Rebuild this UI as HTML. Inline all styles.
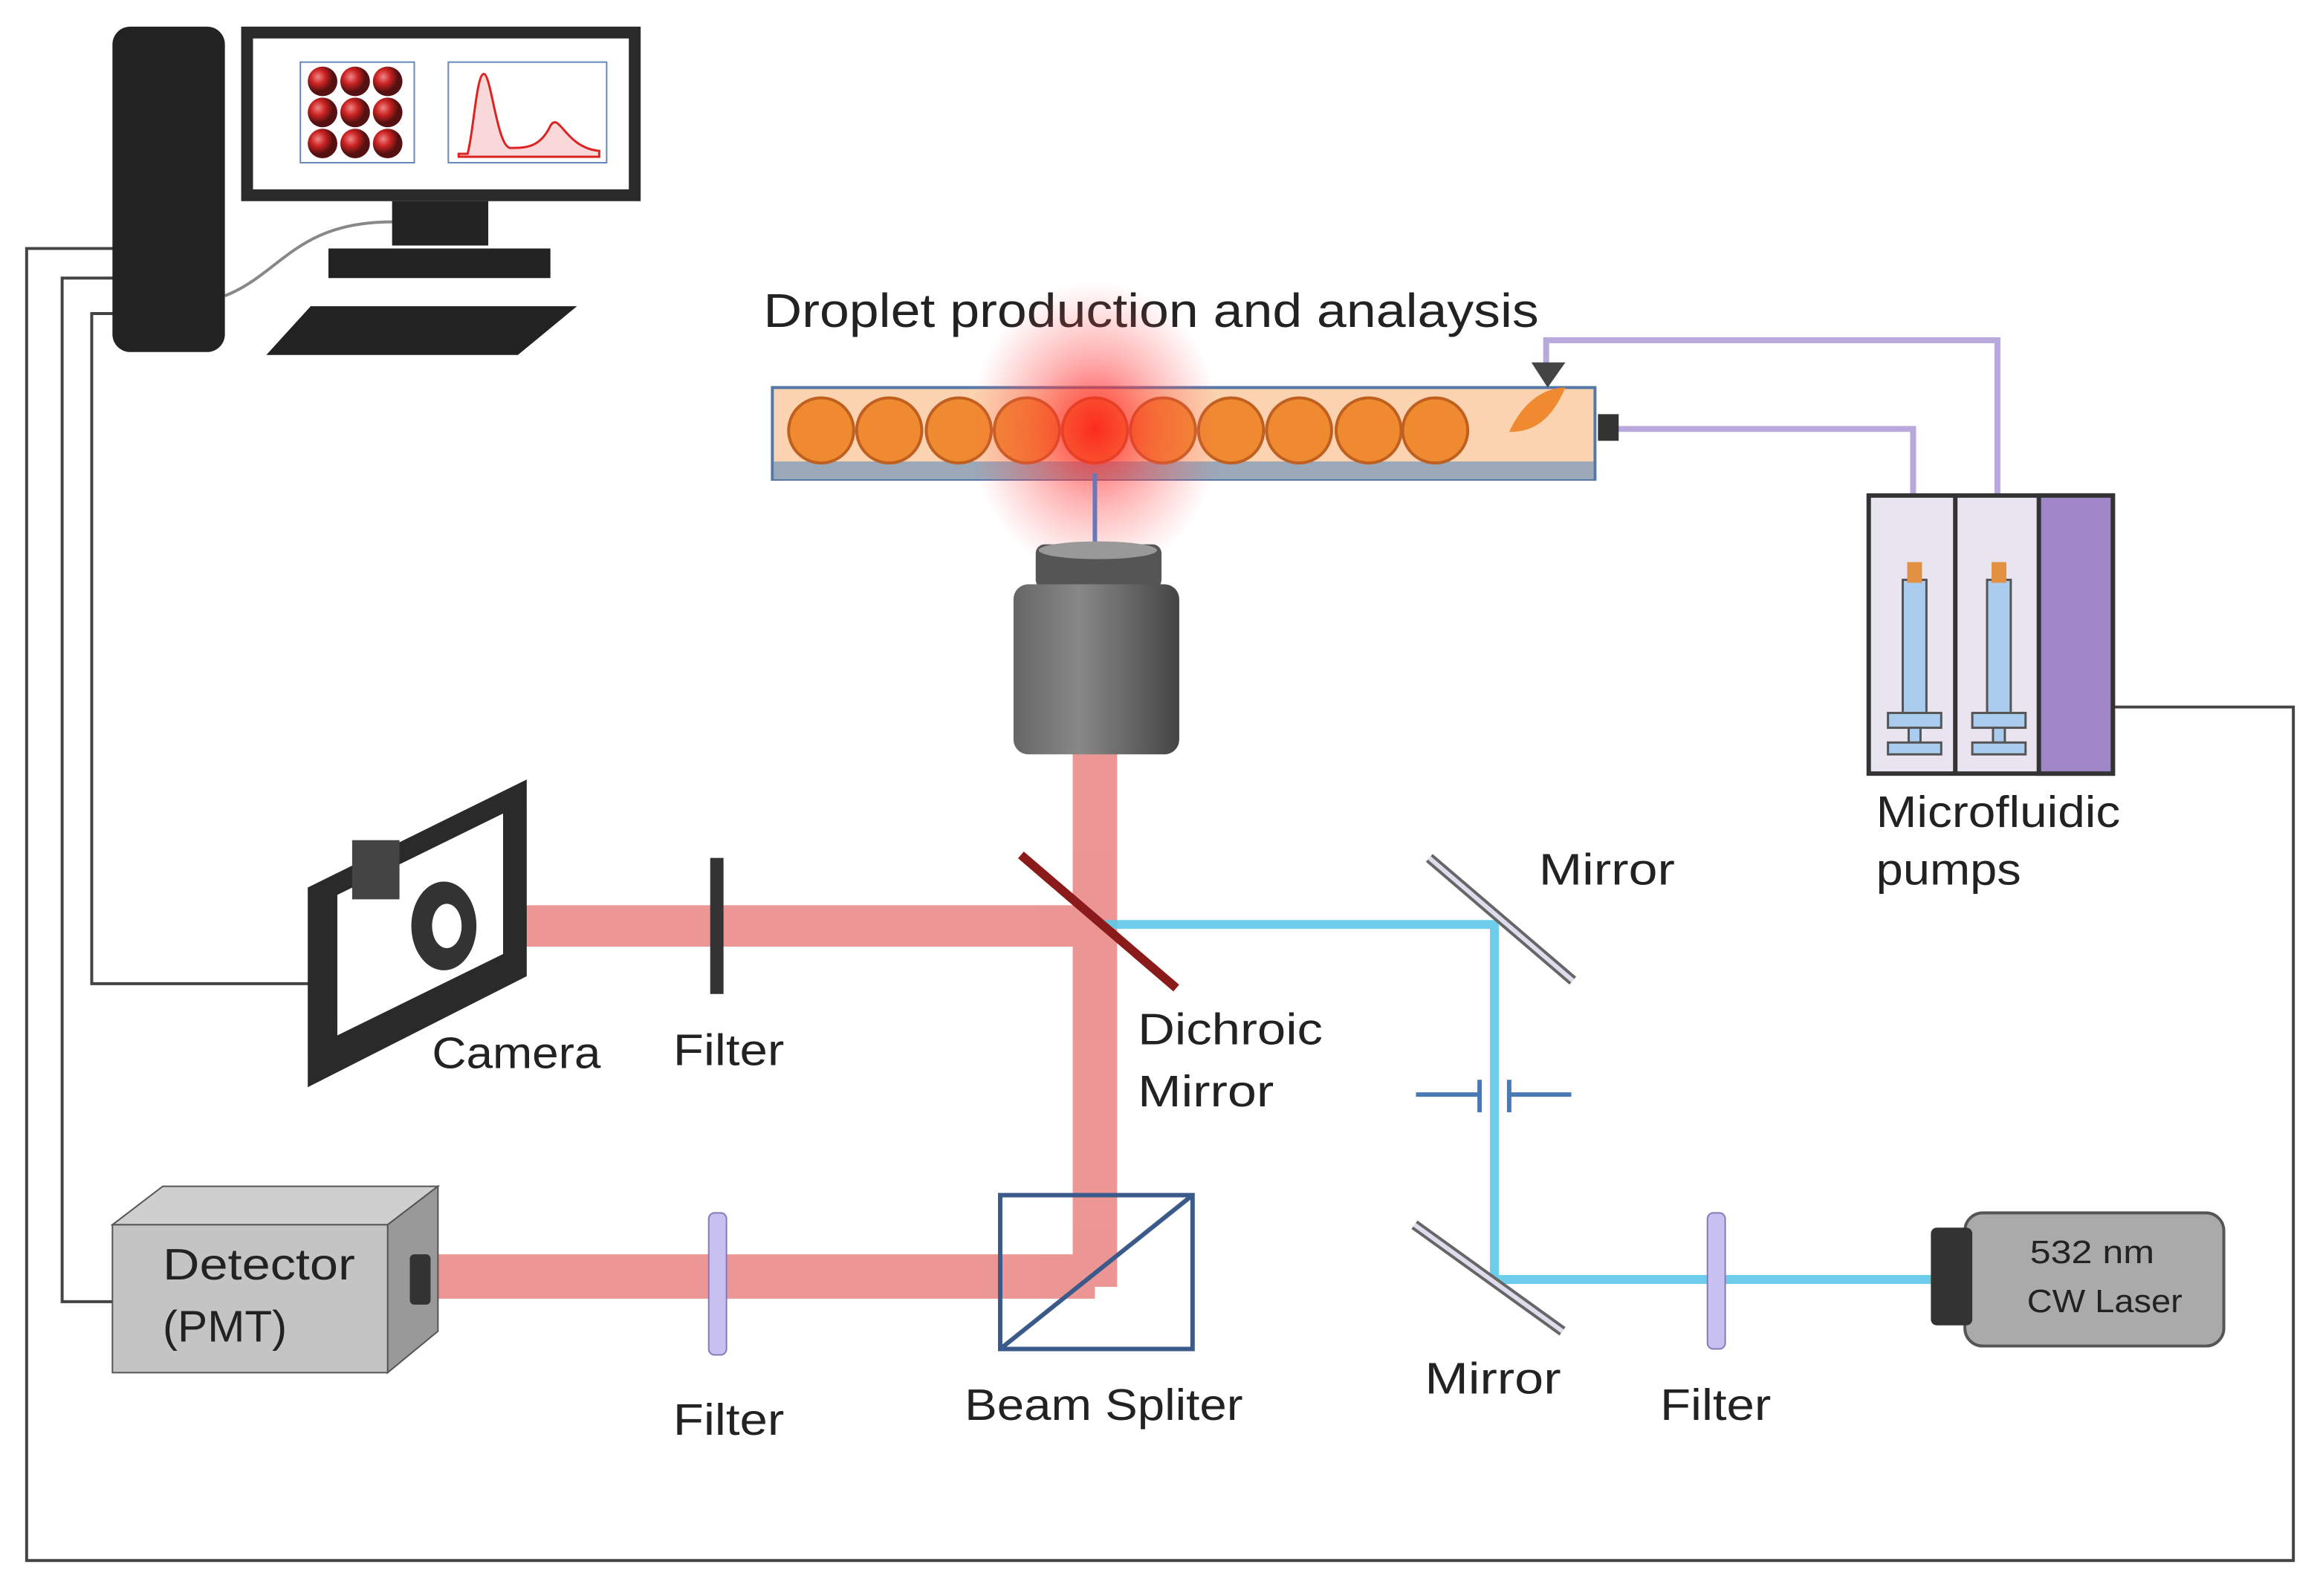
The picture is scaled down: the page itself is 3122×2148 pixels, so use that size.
<!DOCTYPE html>
<html><head><meta charset="utf-8"><style>
html,body{margin:0;padding:0;background:#fff}
svg{display:block}
text{font-family:"Liberation Sans",sans-serif;fill:#222}
</style></head><body>
<svg width="3122" height="2148" viewBox="0 0 1568 1079" preserveAspectRatio="none" xmlns="http://www.w3.org/2000/svg">
<defs>
<radialGradient id="glow"><stop offset="0" stop-color="#ff1a1a" stop-opacity="0.85"/><stop offset="0.5" stop-color="#ff4040" stop-opacity="0.4"/><stop offset="1" stop-color="#ff6060" stop-opacity="0"/></radialGradient>
<linearGradient id="obj" x1="0" x2="1"><stop offset="0" stop-color="#666"/><stop offset="0.4" stop-color="#888"/><stop offset="1" stop-color="#444"/></linearGradient>
<radialGradient id="ball" cx="0.35" cy="0.35"><stop offset="0" stop-color="#e88"/><stop offset="0.5" stop-color="#c22"/><stop offset="1" stop-color="#511"/></radialGradient>
</defs>
<g fill="none" stroke="#444" stroke-width="2">
<polyline points="78,168 18,168 18,1055 1550,1055 1550,478 1428,478"/>
<polyline points="78,188 42,188 42,880 78,880"/>
<polyline points="78,212 62,212 62,665 212,665"/>
<path d="M265,150 C200,150 190,185 152,200" stroke="#888"/>
</g>
<rect x="76" y="18" width="76" height="220" rx="12" fill="#222"/>
<rect x="167" y="22" width="262" height="110" fill="#fff" stroke="#2a2a2a" stroke-width="8"/>
<rect x="203" y="42" width="77" height="68" fill="#fff" stroke="#6688bb"/>
<g fill="url(#ball)">
<circle cx="218" cy="55" r="10"/><circle cx="240" cy="55" r="10"/><circle cx="262" cy="55" r="10"/>
<circle cx="218" cy="76" r="10"/><circle cx="240" cy="76" r="10"/><circle cx="262" cy="76" r="10"/>
<circle cx="218" cy="97" r="10"/><circle cx="240" cy="97" r="10"/><circle cx="262" cy="97" r="10"/>
</g>
<rect x="303" y="42" width="107" height="68" fill="#fff" stroke="#6688bb"/>
<path d="M310,104 L316,104 C320,90 322,50 327,50 C332,50 336,100 345,100 C355,100 365,100 372,85 C378,75 382,100 405,102 L405,106 L310,106Z" fill="#f8d8d8" stroke="#d22" stroke-width="1.5"/>
<rect x="265" y="136" width="65" height="30" fill="#222"/>
<rect x="222" y="168" width="150" height="20" fill="#222"/>
<polygon points="210,207 390,207 350,240 180,240" fill="#222"/>
<text x="516" y="221" font-size="32" textLength="524" lengthAdjust="spacingAndGlyphs">Droplet production and analaysis</text>
<g fill="none" stroke="#b8a8dc" stroke-width="4">
<polyline points="1293,360 1293,290 1090,290"/>
<polyline points="1350,360 1350,230 1045,230 1045,250"/>
</g>
<rect x="522" y="262" width="556" height="62" fill="#fbd3b0" stroke="#5577aa" stroke-width="2"/>
<rect x="523" y="312" width="554" height="12" fill="#9aa8b8"/>
<g fill="#f08a30" stroke="#c06020" stroke-width="2">
<circle cx="555" cy="291" r="22"/><circle cx="601" cy="291" r="22"/><circle cx="648" cy="291" r="22"/><circle cx="694" cy="291" r="22"/><circle cx="740" cy="291" r="22"/><circle cx="786" cy="291" r="22"/><circle cx="832" cy="291" r="22"/><circle cx="878" cy="291" r="22"/><circle cx="925" cy="291" r="22"/><circle cx="970" cy="291" r="22"/>
</g>
<path d="M1020,292 C1030,270 1045,262 1058,262 C1050,280 1040,292 1020,292Z" fill="#f08a30"/>
<polygon points="1035,245 1058,245 1046,262" fill="#444"/>
<rect x="1080" y="280" width="14" height="18" fill="#333"/>
<ellipse cx="740" cy="290" rx="85" ry="100" fill="url(#glow)"/>
<g fill="#e05050" opacity="0.6">
<rect x="725" y="505" width="30" height="365"/>
<rect x="300" y="612" width="445" height="28"/>
<rect x="295" y="848" width="445" height="30"/>
</g>
<line x1="740" y1="320" x2="740" y2="370" stroke="#6677bb" stroke-width="3"/>
<rect x="700" y="368" width="85" height="30" rx="6" fill="#555"/>
<ellipse cx="742" cy="372" rx="40" ry="6" fill="#999"/>
<rect x="685" y="395" width="112" height="115" rx="10" fill="url(#obj)"/>
<g stroke="#5ec8e8" stroke-width="6" fill="none" opacity="0.9">
<polyline points="745,625 1010,625 1010,865 1305,865"/>
</g>
<line x1="690" y1="578" x2="795" y2="668" stroke="#8b1a1a" stroke-width="6"/>
<g stroke="#666" stroke-width="7" fill="none"><line x1="966" y1="580" x2="1063" y2="663"/><line x1="956" y1="828" x2="1056" y2="900"/></g>
<g stroke="#dde" stroke-width="3" fill="none"><line x1="966" y1="580" x2="1063" y2="663"/><line x1="956" y1="828" x2="1056" y2="900"/></g>
<g stroke="#4a7ab5" stroke-width="3"><line x1="957" y1="740" x2="1000" y2="740"/><line x1="1020" y1="740" x2="1062" y2="740"/><line x1="1000" y1="730" x2="1000" y2="752"/><line x1="1020" y1="730" x2="1020" y2="752"/></g>
<rect x="480" y="580" width="9" height="92" fill="#333"/>
<rect x="479" y="820" width="12" height="96" rx="4" fill="#c8c0f0" stroke="#8877bb"/>
<rect x="1154" y="820" width="12" height="92" rx="4" fill="#c8c0f0" stroke="#8877bb"/>
<rect x="676" y="808" width="130" height="104" fill="none" stroke="#3a5a8a" stroke-width="3"/>
<line x1="676" y1="912" x2="806" y2="808" stroke="#3a5a8a" stroke-width="3"/>
<polygon points="208,600 356,527 356,660 208,735" fill="#2a2a2a"/>
<polygon points="228,605 340,550 340,645 228,700" fill="#fff"/>
<rect x="238" y="568" width="32" height="40" fill="#444"/>
<ellipse cx="300" cy="626" rx="22" ry="30" fill="#333"/>
<ellipse cx="302" cy="626" rx="10" ry="15" fill="#fff"/>
<polygon points="76,828 110,802 296,802 262,828" fill="#cfcfcf" stroke="#555"/>
<polygon points="262,828 296,802 296,900 262,928" fill="#999" stroke="#555"/>
<rect x="76" y="828" width="186" height="100" fill="#c4c4c4" stroke="#555"/>
<rect x="277" y="848" width="14" height="34" rx="3" fill="#333"/>
<rect x="1328" y="820" width="175" height="90" rx="12" fill="#aaa" stroke="#555" stroke-width="2"/>
<rect x="1305" y="830" width="28" height="66" rx="4" fill="#333"/>
<rect x="1263" y="335" width="165" height="188" fill="#e8e4f0" stroke="#333" stroke-width="3"/>
<rect x="1320" y="335" width="3" height="188" fill="#333"/>
<rect x="1378" y="335" width="50" height="188" fill="#a088c8" stroke="#333" stroke-width="3"/>
<g fill="#aaccee" stroke="#555" stroke-width="1.5">
<rect x="1286" y="392" width="16" height="90"/><rect x="1343" y="392" width="16" height="90"/>
<rect x="1276" y="482" width="36" height="10"/><rect x="1333" y="482" width="36" height="10"/>
<rect x="1290" y="492" width="8" height="10"/><rect x="1347" y="492" width="8" height="10"/>
<rect x="1276" y="502" width="36" height="8"/><rect x="1333" y="502" width="36" height="8"/>
</g>
<g fill="#e09040"><rect x="1289" y="380" width="10" height="14"/><rect x="1346" y="380" width="10" height="14"/></g>
<g font-size="30" lengthAdjust="spacingAndGlyphs">
<text x="1040" y="598" textLength="92" lengthAdjust="spacingAndGlyphs">Mirror</text>
<text x="292" y="722" textLength="114" lengthAdjust="spacingAndGlyphs">Camera</text>
<text x="455" y="720" textLength="75" lengthAdjust="spacingAndGlyphs">Filter</text>
<text x="769" y="706" textLength="125" lengthAdjust="spacingAndGlyphs">Dichroic</text>
<text x="769" y="748" textLength="92" lengthAdjust="spacingAndGlyphs">Mirror</text>
<text x="1268" y="559" textLength="165" lengthAdjust="spacingAndGlyphs">Microfluidic</text>
<text x="1268" y="598" textLength="98" lengthAdjust="spacingAndGlyphs">pumps</text>
<text x="110" y="865" textLength="130" lengthAdjust="spacingAndGlyphs">Detector</text>
<text x="110" y="907" textLength="84" lengthAdjust="spacingAndGlyphs">(PMT)</text>
<text x="455" y="970" textLength="75" lengthAdjust="spacingAndGlyphs">Filter</text>
<text x="652" y="960" textLength="188" lengthAdjust="spacingAndGlyphs">Beam Spliter</text>
<text x="963" y="942" textLength="92" lengthAdjust="spacingAndGlyphs">Mirror</text>
<text x="1122" y="960" textLength="75" lengthAdjust="spacingAndGlyphs">Filter</text>
</g>
<text x="1372" y="854" font-size="22" textLength="84" lengthAdjust="spacingAndGlyphs">532 nm</text>
<text x="1370" y="887" font-size="22" textLength="105" lengthAdjust="spacingAndGlyphs">CW Laser</text>
</svg>
</body></html>
